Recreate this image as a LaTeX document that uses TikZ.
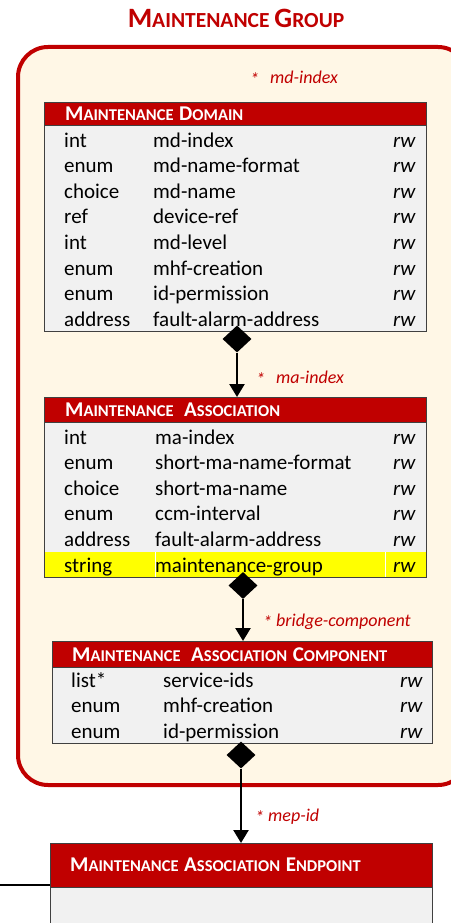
\documentclass[tikz,border=0pt]{standalone}
\usepackage{fontspec}
\setmainfont{Carlito}
\usetikzlibrary{shapes.geometric,arrows.meta}
\definecolor{mdred}{RGB}{192,0,0}
\definecolor{groupfill}{RGB}{255,247,230}
\definecolor{bodygray}{RGB}{241,241,241}
\definecolor{boxline}{RGB}{64,64,64}
\definecolor{hilite}{RGB}{255,255,0}
\newcommand{\hsc}[2]{{\fontsize{21}{23}\selectfont #1}{\fontsize{16.5}{18}\selectfont #2}}
\newcommand{\tsc}[2]{{\fontsize{28}{30}\selectfont #1}{\fontsize{21.5}{23}\selectfont #2}}
\newcommand{\keystar}{\raisebox{-2pt}{*}}

\begin{document}
\begin{tikzpicture}[x=1pt, y=-1pt,
  group/.style={draw=mdred, line width=4pt, fill=groupfill, rounded corners=30pt},
  header/.style={draw=boxline, fill=mdred, text=white, font=\fontsize{17}{20}\selectfont\bfseries, anchor=north west, inner xsep=21pt, inner ysep=0pt, align=left},
  body/.style={draw=boxline, fill=bodygray, anchor=north west, inner sep=0pt},
  cell/.style={inner sep=0pt, text height=13pt, text depth=4pt, font=\fontsize{21}{25}\selectfont},
  key/.style={text=mdred, font=\fontsize{18}{21}\selectfont\itshape, inner sep=0pt, anchor=west},
  owns/.style={diamond, fill=black, inner sep=0pt, minimum width=29pt, minimum height=27pt},
  arrow/.style={-{Triangle[width=15pt,length=13pt]}, line width=2.5pt}
]
\useasboundingbox (0,0) rectangle (450,923);

\node[text=mdred, font=\fontsize{22}{24}\selectfont\bfseries] (title) at (236,18) {\tsc{M}{AINTENANCE} \tsc{G}{ROUP}};

\draw[group] (18,47) rectangle (468,785);

% maintenance domain
\node[key] (mdkey) at (250,78) {\keystar\hspace{11pt}md-index};
\node[header, text width=340pt, minimum height=23pt] (md) at (44,102) {\hsc{M}{AINTENANCE} \hsc{D}{OMAIN}};
\node[body, minimum width=382pt, minimum height=206pt] (mdbody) at (md.south west) {};
\foreach \type/\field [count=\i] in {int/md-index, enum/md-name-format, choice/md-name, ref/device-ref, int/md-level, enum/mhf-creation, enum/id-permission, address/fault-alarm-address} {
  \node[cell, anchor=west] (md-type-\i) at (64,{117+25.6*\i}) {\type};
  \node[cell, anchor=west] (md-field-\i) at (153,{117+25.6*\i}) {\field};
  \node[cell, anchor=east] (md-rw-\i) at (416,{117+25.6*\i}) {\textit{rw}};
}

% maintenance association
\node[key] (makey) at (256,378) {\keystar\hspace{11pt}ma-index};
\node[header, text width=340pt, minimum height=25pt] (ma) at (44,397) {\hsc{M}{AINTENANCE}\hspace{5pt} \hsc{A}{SSOCIATION}};
\node[body, minimum width=382pt, minimum height=155pt] (mabody) at (ma.south west) {};
\fill[hilite] (44.5,551.5) rectangle (425.5,576.5);
\draw[white] (155,551.5) -- (155,576.5) (385,551.5) -- (385,576.5);
\foreach \type/\field [count=\i] in {int/ma-index, enum/short-ma-name-format, choice/short-ma-name, enum/ccm-interval, address/fault-alarm-address, string/maintenance-group} {
  \node[cell, anchor=west] (ma-type-\i) at (64,{414+25.6*\i}) {\type};
  \node[cell, anchor=west] (ma-field-\i) at (155,{414+25.6*\i}) {\field};
  \node[cell, anchor=east] (ma-rw-\i) at (416,{414+25.6*\i}) {\textit{rw}};
}

% maintenance association component
\node[key] (mackey) at (263,622) {\keystar\ bridge-component};
\node[header, inner xsep=20pt, text width=340pt, minimum height=26pt] (mac) at (52,641) {\hsc{M}{AINTENANCE}\hspace{5pt} \hsc{A}{SSOCIATION} \hsc{C}{OMPONENT}};
\node[body, minimum width=380pt, minimum height=76pt] (macbody) at (mac.south west) {};
\foreach \type/\field [count=\i] in {list*/service-ids, enum/mhf-creation, enum/id-permission} {
  \node[cell, anchor=west] (mac-type-\i) at (71,{657+25.5*\i}) {\type};
  \node[cell, anchor=west] (mac-field-\i) at (163,{657+25.5*\i}) {\field};
  \node[cell, anchor=east] (mac-rw-\i) at (423,{657+25.5*\i}) {\textit{rw}};
}

% maintenance association endpoint
\node[key] (mepkey) at (255,817) {\keystar\ mep-id};
\node[header, inner xsep=20pt, text width=342pt, minimum height=44pt] (mae) at (50,843) {\hsc{M}{AINTENANCE} \hsc{A}{SSOCIATION} \hsc{E}{NDPOINT}};
\node[body, minimum width=382pt, minimum height=60pt] (maebody) at (mae.south west) {};
\coordinate (ext) at (0,885);
\draw[line width=1.2pt] (ext) -- (ext -| mae.west);

% containment
\node[owns] (mdown) at (237,339) {};
\node[owns] (maown) at (243,585.5) {};
\node[owns] (macown) at (241,755) {};
\draw[arrow] (mdown.south) -- (mdown.south |- ma.north);
\draw[arrow] (maown.south) -- (maown.south |- mac.north);
\draw[arrow] (macown.south) -- (macown.south |- mae.north);

\end{tikzpicture}
\end{document}
